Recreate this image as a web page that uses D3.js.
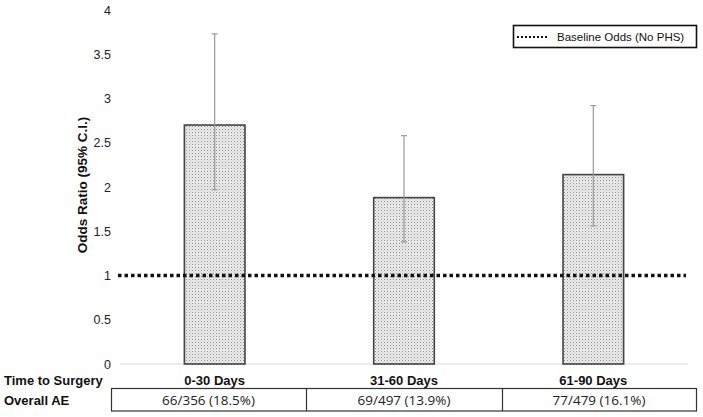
<!DOCTYPE html>
<html><head><meta charset="utf-8">
<script src="https://cdn.jsdelivr.net/npm/d3@7"></script>
<style>body{margin:0;background:#fff}svg{display:block}</style>
</head><body>
<script>
const categories = ["0-30 Days", "31-60 Days", "61-90 Days"];
const oddsRatio = [2.70, 1.88, 2.14];
const ciLow = [1.97, 1.38, 1.56];
const ciHigh = [3.73, 2.58, 2.92];
const overallAE = ["66/356 (18.5%)", "69/497 (13.9%)", "77/479 (16.1%)"];
const yTicks = [0, 0.5, 1, 1.5, 2, 2.5, 3, 3.5, 4];
const baseline = 1;

const W = 703, H = 417;
const svg = d3.select("body").append("svg").attr("width", W).attr("height", H);

const defs = svg.append("defs");
const pat = defs.append("pattern").attr("id", "dots").attr("patternUnits", "userSpaceOnUse")
  .attr("width", 3).attr("height", 3);
pat.append("rect").attr("width", 3).attr("height", 3).attr("fill", "#eeeeee");
pat.append("rect").attr("x", 0).attr("y", 0).attr("width", 1).attr("height", 1).attr("fill", "#8f8f8f");
pat.append("rect").attr("x", 1.5).attr("y", 1.5).attr("width", 1).attr("height", 1).attr("fill", "#b0b0b0");

const x = d3.scaleBand().domain(categories).range([120, 688]).paddingInner(0.68).paddingOuter(0.34);
const y = d3.scaleLinear().domain([0, 4]).range([364, 10]);

const lblFont = "Liberation Sans, Arial, sans-serif";

// y axis labels
const yAxis = svg.append("g").attr("transform", "translate(111,0)")
  .call(d3.axisLeft(y).tickValues(yTicks).tickSize(0).tickPadding(0).tickFormat(d3.format("")));
yAxis.select(".domain").remove();
yAxis.selectAll("text").attr("font-family", lblFont)
  .attr("font-size", 12.5).attr("fill", "#222");

// x axis line
svg.append("line").attr("x1", 120).attr("x2", 688).attr("y1", y(0)).attr("y2", y(0))
  .attr("stroke", "#d9d9d9").attr("stroke-width", 1);

// y title
svg.append("text").attr("transform", `translate(87,${185}) rotate(-90)`)
  .attr("text-anchor", "middle").attr("font-family", lblFont)
  .attr("font-weight", "bold").attr("font-size", 13.5).attr("fill", "#111")
  .text("Odds Ratio (95% C.I.)");

// bars
svg.selectAll("rect.bar").data(categories).join("rect").attr("class", "bar")
  .attr("x", d => x(d)).attr("width", x.bandwidth())
  .attr("y", (d, i) => y(oddsRatio[i])).attr("height", (d, i) => y(0) - y(oddsRatio[i]))
  .attr("fill", "url(#dots)").attr("stroke", "#444").attr("stroke-width", 1.6);

// error bars
const eb = svg.append("g").attr("stroke", "#999").attr("stroke-width", 1.2);
categories.forEach((c, i) => {
  const cx = x(c) + x.bandwidth() / 2;
  eb.append("line").attr("x1", cx).attr("x2", cx).attr("y1", y(ciLow[i])).attr("y2", y(ciHigh[i]));
  eb.append("line").attr("x1", cx - 3).attr("x2", cx + 3).attr("y1", y(ciLow[i])).attr("y2", y(ciLow[i]));
  eb.append("line").attr("x1", cx - 3).attr("x2", cx + 3).attr("y1", y(ciHigh[i])).attr("y2", y(ciHigh[i]));
});

// baseline
svg.append("line").attr("x1", 118).attr("x2", 686).attr("y1", y(baseline)).attr("y2", y(baseline))
  .attr("stroke", "#111").attr("stroke-width", 3.5).attr("stroke-dasharray", "3.5,3");

// legend
svg.append("rect").attr("x", 513.5).attr("y", 25.5).attr("width", 183).attr("height", 22)
  .attr("fill", "#fff").attr("stroke", "#111").attr("stroke-width", 1.6);
svg.append("line").attr("x1", 517).attr("x2", 549).attr("y1", 37).attr("y2", 37)
  .attr("stroke", "#111").attr("stroke-width", 2).attr("stroke-dasharray", "2,2");
svg.append("text").attr("x", 557).attr("y", 41).attr("font-family", lblFont)
  .attr("font-size", 11.5).attr("fill", "#111").text("Baseline Odds (No PHS)");

// category labels
svg.append("text").attr("x", 4).attr("y", 385).attr("font-family", lblFont).attr("font-weight", "bold")
  .attr("font-size", 13).attr("fill", "#111").text("Time to Surgery");
svg.selectAll("text.cat").data(categories).join("text").attr("class", "cat")
  .attr("x", d => x(d) + x.bandwidth() / 2).attr("y", 385).attr("text-anchor", "middle")
  .attr("font-family", lblFont).attr("font-weight", "bold").attr("font-size", 13).attr("fill", "#111")
  .text(d => d);

// table
svg.append("text").attr("x", 4).attr("y", 405).attr("font-family", lblFont).attr("font-weight", "bold")
  .attr("font-size", 13).attr("fill", "#111").text("Overall AE");
const cellX = [111, 306, 502, 696];
const tbl = svg.append("g");
tbl.append("rect").attr("x", cellX[0] + 0.5).attr("y", 388.5).attr("width", cellX[3] - cellX[0]).attr("height", 22.5)
  .attr("fill", "none").attr("stroke", "#333").attr("stroke-width", 1.2);
[1, 2].forEach(k => tbl.append("line").attr("x1", cellX[k] + 0.5).attr("x2", cellX[k] + 0.5)
  .attr("y1", 388.5).attr("y2", 411).attr("stroke", "#333").attr("stroke-width", 1.2));
overallAE.forEach((t, i) => {
  tbl.append("text").attr("x", (cellX[i] + cellX[i + 1]) / 2).attr("y", 404.5).attr("text-anchor", "middle")
    .attr("font-family", "Open Sans, sans-serif").attr("font-size", 13.5).attr("fill", "#222").text(t);
});
</script>
</body></html>
